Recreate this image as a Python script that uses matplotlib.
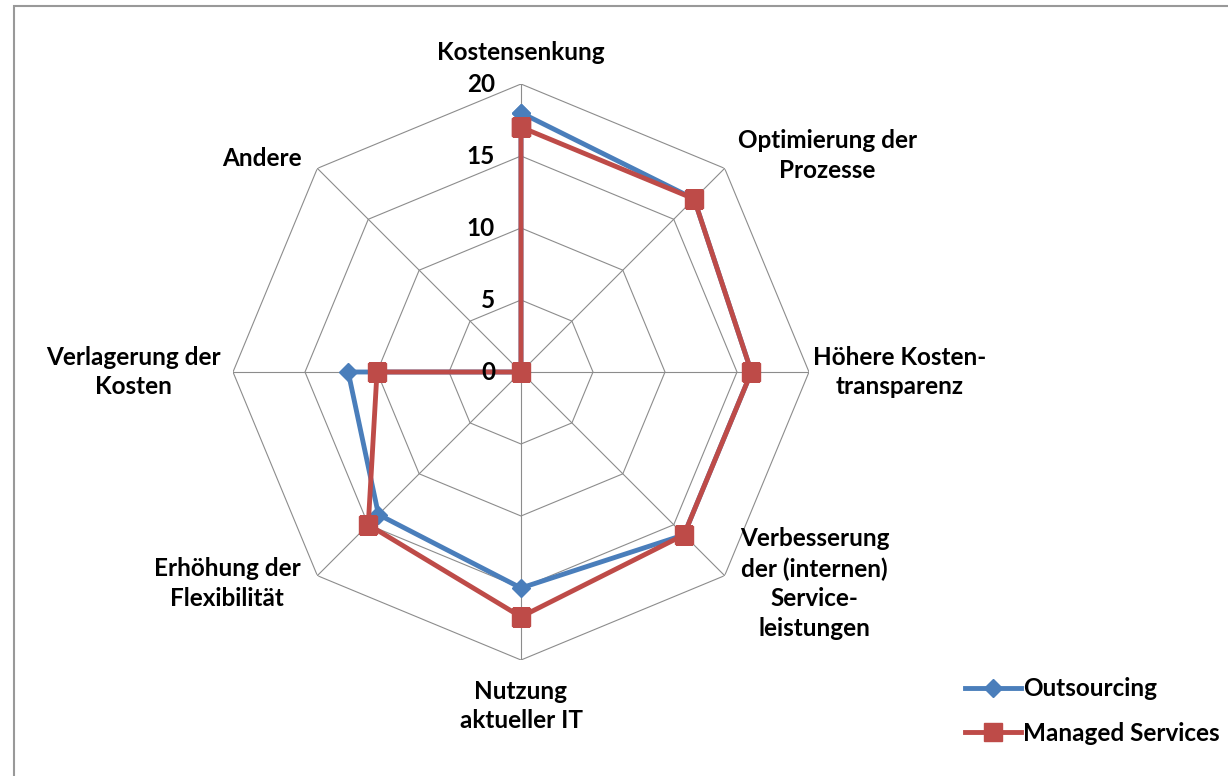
import numpy as np
import matplotlib.pyplot as plt
from matplotlib.patches import Rectangle

# data
categories = ['Kostensenkung', 'Optimierung der\nProzesse', 'Höhere Kosten-\ntransparenz',
              'Verbesserung\nder (internen)\nService-\nleistungen', 'Nutzung\naktueller IT',
              'Erhöhung der\nFlexibilität', 'Verlagerung der\nKosten', 'Andere']
outsourcing = [18, 17, 16, 16, 15, 14, 12, 0]
managed = [17, 17, 16, 16, 17, 15, 10, 0]
r_ticks = [0, 5, 10, 15, 20]

# label offsets from outer vertex (pixels)
label_offsets = [(0, 32), (103, 13), (91, 0), (90, -8), (0, -46), (-90, -8), (-100, 0), (-55, 10)]

plt.rcParams['font.family'] = ['Lato', 'DejaVu Sans']
FS = 17.5

fig = plt.figure(figsize=(12.28, 7.76), dpi=100)
fig.patches.append(Rectangle((14 / 1228, -0.1), 1.2, 1.1 - 6 / 776, transform=fig.transFigure,
                             fill=False, edgecolor='#999999', lw=1.5))

ax = fig.add_axes([(521 - 288) / 1228, (776 - 372 - 288) / 776, 576 / 1228, 576 / 776],
                  projection='polar')
ax.set_theta_offset(np.pi / 2)
ax.set_theta_direction(-1)
ax.set_ylim(0, 20)
ax.grid(False)
ax.spines['polar'].set_visible(False)
ax.set_xticks([])
ax.set_yticks([])

n = len(categories)
theta = np.arange(n) * 2 * np.pi / n
theta_c = np.append(theta, theta[0])

# octagon grid
for r in r_ticks[1:]:
    ax.plot(theta_c, [r] * (n + 1), color='#8c8c8c', lw=0.8, zorder=1)
for t in theta:
    ax.plot([t, t], [0, 20], color='#8c8c8c', lw=0.8, zorder=1)

ax.plot(theta_c, outsourcing + outsourcing[:1], color='#4a7ebb', lw=3.5, marker='D',
        ms=9, label='Outsourcing', zorder=3)
ax.plot(theta_c, managed + managed[:1], color='#be4b48', lw=3.5, marker='s',
        ms=13, label='Managed Services', zorder=4)

for r in r_ticks:
    ax.annotate(str(r), xy=(0, r), xytext=(-26, 0), textcoords='offset pixels',
                ha='right', va='center', fontsize=FS, fontweight='bold', zorder=5)

for t, lab, off in zip(theta, categories, label_offsets):
    ax.annotate(lab, xy=(t, 20), xytext=off, textcoords='offset pixels',
                ha='center', va='center', fontsize=FS, fontweight='bold',
                linespacing=1.35, annotation_clip=False)

fig.legend(loc='center left', bbox_to_anchor=(943 / 1228, 1 - 711 / 776), frameon=False,
           prop={'weight': 'bold', 'size': FS}, handlelength=2.3,
           handletextpad=0.1, labelspacing=0.9)

fig.savefig('out.png', dpi=100)
